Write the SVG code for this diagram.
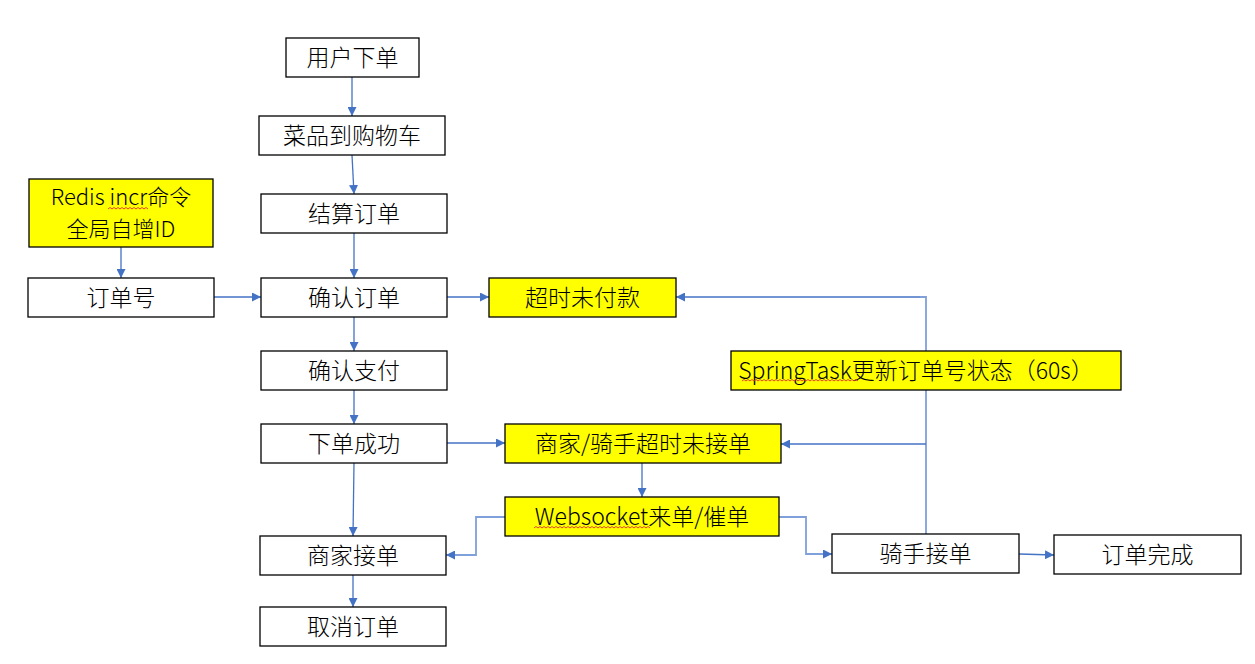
<svg xmlns="http://www.w3.org/2000/svg" width="1255" height="664" viewBox="0 0 1255 664">
<defs>
<marker id="ah" viewBox="0 0 10 10" refX="10" refY="5" markerWidth="9" markerHeight="9" markerUnits="userSpaceOnUse" orient="auto">
<path d="M0,0 L10,5 L0,10 z" fill="#4472C4"/>
</marker>
<style>
.box{fill:#ffffff;stroke:#000000;stroke-width:1.3}
.hl{fill:#ffff00;stroke:#000000;stroke-width:1.3}
.t{font-family:"Noto Sans CJK SC","Microsoft YaHei","Noto Sans",sans-serif;font-size:23px;font-weight:300;fill:#000000;text-anchor:middle}
.t2{font-size:22px}
.c{fill:none;stroke:#4472C4;stroke-width:1.3}
.cl{fill:none;stroke:#7FA0DA;stroke-width:1.8}
.sq{fill:none;stroke:#e03030;stroke-width:0.9}
</style>
</defs>
<rect width="1255" height="664" fill="#ffffff"/>
<g id="connectors">
<line class="c" x1="352" y1="77" x2="352" y2="116" marker-end="url(#ah)"/>
<line class="c" x1="352" y1="155" x2="354" y2="194" marker-end="url(#ah)"/>
<line class="c" x1="354" y1="233" x2="354" y2="278" marker-end="url(#ah)"/>
<line class="c" x1="121" y1="247" x2="121" y2="278" marker-end="url(#ah)"/>
<line class="c" x1="214" y1="297" x2="261" y2="297" marker-end="url(#ah)"/>
<line class="c" x1="447" y1="297" x2="489" y2="297" marker-end="url(#ah)"/>
<line class="c" x1="354" y1="317" x2="354" y2="351" marker-end="url(#ah)"/>
<line class="c" x1="354" y1="390" x2="354" y2="424" marker-end="url(#ah)"/>
<line class="c" x1="447" y1="443" x2="505" y2="443" marker-end="url(#ah)"/>
<line class="c" x1="354" y1="463" x2="353" y2="536" marker-end="url(#ah)"/>
<line class="c" x1="642" y1="463" x2="642" y2="497" marker-end="url(#ah)"/>
<polyline class="cl" points="505,517 476,517 476,555 446,555" marker-end="url(#ah)"/>
<polyline class="cl" points="779,517 806,517 806,554 832,554" marker-end="url(#ah)"/>
<line class="c" x1="1019" y1="554" x2="1054" y2="555" marker-end="url(#ah)"/>
<line class="c" x1="353" y1="575" x2="353" y2="607" marker-end="url(#ah)"/>
<polyline class="cl" points="926,534 926,297 920,297"/>
<line class="c" x1="920" y1="297" x2="676" y2="297" marker-end="url(#ah)"/>
<line class="c" x1="926" y1="444" x2="781" y2="444" marker-end="url(#ah)"/>
</g>
<g id="n-yonghu"><rect class="box" x="286" y="38" width="133" height="39"/><text class="t" x="352.5" y="65.5">用户下单</text></g>
<g id="n-caipin"><rect class="box" x="259" y="116" width="186" height="39"/><text class="t" x="352" y="143.5">菜品到购物车</text></g>
<g id="n-jiesuan"><rect class="box" x="261" y="194" width="186" height="39"/><text class="t" x="354" y="221.5">结算订单</text></g>
<g id="n-redis"><rect class="hl" x="29" y="179" width="184" height="68"/><text class="t t2" x="121" y="205">Redis incr命令</text><text class="t t2" x="121" y="237">全局自增ID</text>
<path class="sq" d="M108,209 l2,-1.5 l2,1.5 l2,-1.5 l2,1.5 l2,-1.5 l2,1.5 l2,-1.5 l2,1.5 l2,-1.5 l2,1.5 l2,-1.5 l2,1.5 l2,-1.5 l2,1.5 l2,-1.5 l2,1.5 l2,-1.5 l2,1.5 l2,-1.5 l2,1.5"/></g>
<g id="n-dingdanhao"><rect class="box" x="28" y="278" width="186" height="39"/><text class="t" x="121" y="305.5">订单号</text></g>
<g id="n-queren"><rect class="box" x="261" y="278" width="186" height="39"/><text class="t" x="354" y="305.5">确认订单</text></g>
<g id="n-chaoshi"><rect class="hl" x="489" y="278" width="187" height="39"/><text class="t" x="582.5" y="305.5">超时未付款</text></g>
<g id="n-springtask"><rect class="hl" x="731" y="351" width="390" height="39"/><text class="t" x="916" y="378.5">SpringTask更新订单号状态（60s）</text>
<path class="sq" d="M742,381 l2,-1.5 l2,1.5 l2,-1.5 l2,1.5 l2,-1.5 l2,1.5 l2,-1.5 l2,1.5 l2,-1.5 l2,1.5 l2,-1.5 l2,1.5 l2,-1.5 l2,1.5 l2,-1.5 l2,1.5 l2,-1.5 l2,1.5 l2,-1.5 l2,1.5 l2,-1.5 l2,1.5 l2,-1.5 l2,1.5 l2,-1.5 l2,1.5 l2,-1.5 l2,1.5 l2,-1.5 l2,1.5 l2,-1.5 l2,1.5 l2,-1.5 l2,1.5 l2,-1.5 l2,1.5 l2,-1.5 l2,1.5 l2,-1.5 l2,1.5 l2,-1.5 l2,1.5 l2,-1.5 l2,1.5 l2,-1.5 l2,1.5 l2,-1.5 l2,1.5 l2,-1.5 l2,1.5 l2,-1.5 l2,1.5 l2,-1.5 l2,1.5 l2,-1.5 l2,1.5 l2,-1.5 l2,1.5"/></g>
<g id="n-zhifu"><rect class="box" x="261" y="351" width="186" height="39"/><text class="t" x="354" y="378.5">确认支付</text></g>
<g id="n-chenggong"><rect class="box" x="261" y="424" width="186" height="39"/><text class="t" x="354" y="451.5">下单成功</text></g>
<g id="n-weijiedan"><rect class="hl" x="505" y="424" width="276" height="39"/><text class="t" x="643" y="451.5">商家/骑手超时未接单</text></g>
<g id="n-websocket"><rect class="hl" x="505" y="497" width="274" height="39"/><text class="t" x="642" y="524.5">Websocket来单/催单</text>
<path class="sq" d="M534,528 l2,-1.5 l2,1.5 l2,-1.5 l2,1.5 l2,-1.5 l2,1.5 l2,-1.5 l2,1.5 l2,-1.5 l2,1.5 l2,-1.5 l2,1.5 l2,-1.5 l2,1.5 l2,-1.5 l2,1.5 l2,-1.5 l2,1.5 l2,-1.5 l2,1.5 l2,-1.5 l2,1.5 l2,-1.5 l2,1.5 l2,-1.5 l2,1.5 l2,-1.5 l2,1.5 l2,-1.5 l2,1.5 l2,-1.5 l2,1.5 l2,-1.5 l2,1.5 l2,-1.5 l2,1.5 l2,-1.5 l2,1.5 l2,-1.5 l2,1.5 l2,-1.5 l2,1.5 l2,-1.5 l2,1.5 l2,-1.5 l2,1.5 l2,-1.5 l2,1.5 l2,-1.5 l2,1.5 l2,-1.5 l2,1.5 l2,-1.5 l2,1.5 l2,-1.5 l2,1.5 l2,-1.5 l2,1.5"/></g>
<g id="n-shangjia"><rect class="box" x="260" y="536" width="186" height="39"/><text class="t" x="353" y="563.5">商家接单</text></g>
<g id="n-qishou"><rect class="box" x="832" y="534" width="187" height="39"/><text class="t" x="925.5" y="561.5">骑手接单</text></g>
<g id="n-wancheng"><rect class="box" x="1054" y="535" width="187" height="39"/><text class="t" x="1147.5" y="562.5">订单完成</text></g>
<g id="n-quxiao"><rect class="box" x="260" y="607" width="186" height="39"/><text class="t" x="353" y="634.5">取消订单</text></g>
</svg>
